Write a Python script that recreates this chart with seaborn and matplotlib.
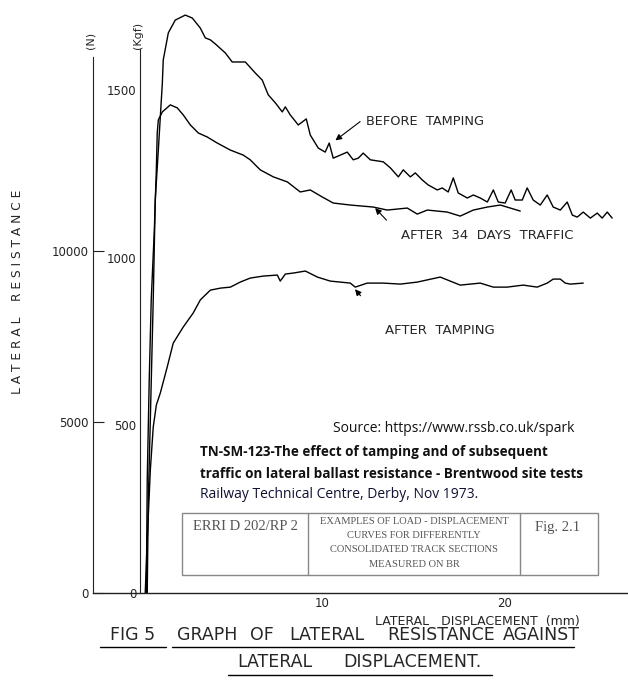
import numpy as np
import pandas as pd
import seaborn as sns
import matplotlib.pyplot as plt
from matplotlib.lines import Line2D
from matplotlib.patches import Rectangle

# curves: lateral displacement (mm) vs lateral resistance (kgf)
before_x = [0.38, 0.44, 0.55, 0.71, 0.82, 0.99, 1.21, 1.26, 1.54, 1.92, 2.47, 2.86, 3.30, 3.57,
            3.85, 4.12, 4.67, 5.05, 5.77, 6.32, 6.70, 7.03, 7.42, 7.80, 7.97, 8.24, 8.68, 9.12,
            9.34, 9.78, 10.16, 10.38, 10.60, 10.99, 11.37, 11.70, 11.98, 12.25, 12.64, 13.35,
            13.74, 14.18, 14.45, 14.84, 15.11, 15.49, 15.82, 16.32, 16.59, 16.92, 17.20, 17.47,
            17.97, 18.30, 18.68, 19.07, 19.40, 19.67, 20.05, 20.38, 20.60, 20.99, 21.26, 21.59,
            21.98, 22.36, 22.69, 23.08, 23.46, 23.74, 24.01, 24.34, 24.73, 25.11, 25.38, 25.66, 25.93]
before_y = [0, 278, 517, 875, 1173, 1322, 1522, 1591, 1672, 1710, 1725, 1716, 1686, 1657,
            1651, 1639, 1612, 1585, 1585, 1552, 1531, 1487, 1463, 1436, 1451, 1427, 1397, 1415,
            1367, 1328, 1316, 1343, 1298, 1307, 1316, 1293, 1298, 1313, 1293, 1287,
            1269, 1242, 1263, 1242, 1254, 1233, 1218, 1203, 1209, 1197, 1239, 1194,
            1179, 1188, 1179, 1167, 1203, 1167, 1164, 1203, 1173, 1173, 1209, 1173,
            1158, 1188, 1152, 1143, 1167, 1128, 1122, 1137, 1119, 1134, 1119, 1137, 1119]

traffic_x = [0.33, 0.38, 0.49, 0.60, 0.77, 0.88, 0.93, 0.99, 1.21, 1.65, 2.03, 2.36, 2.75, 3.19,
             3.68, 4.23, 4.95, 5.66, 6.04, 6.59, 7.31, 8.08, 8.79, 9.34, 10.0, 10.60, 11.54,
             12.80, 13.57, 14.67, 15.22, 15.77, 16.87, 17.58, 18.30, 19.07, 19.78, 20.33, 20.88]
traffic_y = [0, 337, 636, 875, 1084, 1263, 1373, 1412, 1436, 1457, 1448, 1427, 1397, 1373,
             1361, 1343, 1322, 1307, 1293, 1263, 1242, 1227, 1197, 1203, 1182, 1164, 1158,
             1152, 1143, 1149, 1131, 1143, 1137, 1125, 1143, 1152, 1158, 1149, 1140]

after_x = [0.27, 0.38, 0.55, 0.71, 0.88, 1.10, 1.48, 1.81, 2.36, 2.91, 3.30, 3.85, 4.40, 4.95,
           5.49, 6.04, 6.76, 7.53, 7.69, 7.97, 8.41, 9.07, 9.73, 10.44, 11.54, 11.81, 12.47,
           13.35, 14.29, 15.22, 16.48, 17.03, 17.58, 18.68, 19.40, 20.16, 21.04, 21.81, 22.36,
           22.69, 23.08, 23.35, 23.63, 24.34]
after_y = [0, 158, 367, 495, 561, 597, 675, 746, 794, 836, 875, 904, 910, 913,
           928, 940, 946, 949, 931, 952, 955, 961, 943, 931, 925, 913, 925,
           925, 922, 928, 943, 931, 919, 925, 913, 913, 919, 913, 925,
           937, 937, 925, 922, 925]

kgf_ticks = [0, 500, 1000, 1500]
n_ticks = [0, 5000, 10000]
x_ticks = [10, 20]

df = pd.concat([
    pd.DataFrame({'disp': before_x, 'res': before_y, 'curve': 'before'}),
    pd.DataFrame({'disp': traffic_x, 'res': traffic_y, 'curve': 'traffic'}),
    pd.DataFrame({'disp': after_x, 'res': after_y, 'curve': 'after'}),
])

sns.set_style("white")
plt.rcParams['font.family'] = ['DejaVu Sans']

W, H = 628, 681
fig = plt.figure(figsize=(W / 100, H / 100), dpi=100)
ax = fig.add_axes([93 / W, (H - 593) / H, (W - 93) / W, 593 / H])

sns.lineplot(data=df, x='disp', y='res', units='curve', estimator=None, sort=False,
             color='black', linewidth=1.0, ax=ax)

ax.set_xlim(-2.6, 26.8)
ax.set_ylim(0, 1770)
ax.set_xlabel('')
ax.set_ylabel('')
for s in ['top', 'right']:
    ax.spines[s].set_visible(False)
ax.spines['bottom'].set_color('#222222')
ax.spines['bottom'].set_linewidth(1.0)

# kgf axis sits at zero displacement
ax.spines['left'].set_position(('data', 0))
ax.spines['left'].set_bounds(0, 1625)
ax.spines['left'].set_color('#222222')
ax.set_yticks(kgf_ticks)
ax.set_yticklabels(['0', '500', '1000', '1500'])
ax.tick_params(axis='y', direction='in', length=9, width=0.8, labelsize=8.5, pad=3, colors='#222222')
ax.set_xticks(x_ticks)
ax.set_xticklabels(['10', '20'])
ax.tick_params(axis='x', direction='in', length=4, width=0.8, labelsize=8.5, pad=3, colors='#222222')

# newton axis on the far left
sec = ax.secondary_yaxis(0.0, functions=(lambda k: k * 9.81, lambda n: n / 9.81))
sec.set_yticks(n_ticks)
sec.set_yticklabels(['0', '5000', '10000'])
sec.spines['left'].set_bounds(0, 15700)
sec.spines['left'].set_color('#222222')
sec.tick_params(axis='y', direction='in', length=8, width=0.8, labelsize=8.5, pad=3, colors='#222222')

fig.text(90 / W, 1 - 40 / H, '(N)', rotation=90, ha='center', va='center', fontsize=8)
fig.text(138 / W, 1 - 35 / H, '(Kgf)', rotation=90, ha='center', va='center', fontsize=8)
fig.text(18 / W, 1 - 292 / H, 'L A T E R A L    R E S I S T A N C E', rotation=90,
         ha='center', va='center', fontsize=8.8)
fig.text(375 / W, 1 - 621 / H, 'LATERAL   DISPLACEMENT  (mm)', ha='left', va='center', fontsize=9)

# curve labels with arrows
arrow = dict(arrowstyle='-|>', color='black', lw=0.8, mutation_scale=9)
ax.annotate('', xy=(10.6, 1346), xytext=(12.2, 1412), arrowprops=arrow)
ax.text(12.4, 1406, 'BEFORE  TAMPING', fontsize=9.3, va='center', ha='left')
ax.annotate('', xy=(12.8, 1155), xytext=(13.63, 1107), arrowprops=arrow)
ax.text(14.3, 1066, 'AFTER  34  DAYS  TRAFFIC', fontsize=9.5, va='center', ha='left')
ax.annotate('', xy=(11.7, 913), xytext=(12.2, 881), arrowprops=arrow)
ax.text(13.45, 785, 'AFTER  TAMPING', fontsize=9.5, va='center', ha='left')

# figure caption, hand lettered so each word is placed on its own
caption1 = ['FIG 5', 'GRAPH', 'OF', 'LATERAL', 'RESISTANCE', 'AGAINST']
caption1_x = [133, 207, 262, 327, 441, 541]
caption2 = ['LATERAL', 'DISPLACEMENT.']
caption2_x = [275, 412]
for word, xc in zip(caption1, caption1_x):
    fig.text(xc / W, 1 - 635 / H, word, ha='center', va='center', fontsize=12.5)
for word, xc in zip(caption2, caption2_x):
    fig.text(xc / W, 1 - 662 / H, word, ha='center', va='center', fontsize=12.5)
for x0, x1, yy in [(100, 166, 647), (172, 574, 647), (228, 492, 675)]:
    fig.add_artist(Line2D([x0 / W, x1 / W], [1 - yy / H, 1 - yy / H], color='black', lw=1.0))

# source notes
fig.text(333 / W, 1 - 429 / H, 'Source: https://www.rssb.co.uk/spark', fontsize=10,
         family='Open Sans', ha='left', va='center', color='#111111')
fig.text(200 / W, 1 - 452 / H, 'TN-SM-123-The effect of tamping and of subsequent', fontsize=9.75,
         family='Open Sans', weight='bold', ha='left', va='center', color='#111111')
fig.text(200 / W, 1 - 474 / H, 'traffic on lateral ballast resistance - Brentwood site tests',
         fontsize=9.75, family='Open Sans', weight='bold', ha='left', va='center', color='#111111')
fig.text(200 / W, 1 - 495 / H, 'Railway Technical Centre, Derby, Nov 1973.', fontsize=10,
         family='Open Sans', ha='left', va='center', color='#111133')

# ERRI reference box
fig.add_artist(Rectangle((182 / W, 1 - 575 / H), (598 - 182) / W, (575 - 513) / H,
                         transform=fig.transFigure, facecolor='white', edgecolor='#888888', lw=1.0))
for xx in [308, 520]:
    fig.add_artist(Line2D([xx / W, xx / W], [1 - 513 / H, 1 - 575 / H], color='#888888', lw=1.0))
fig.text(245 / W, 1 - 527 / H, 'ERRI D 202/RP 2', family='Liberation Serif', fontsize=10.5,
         ha='center', va='center', color='#555555')
fig.text(558 / W, 1 - 527 / H, 'Fig. 2.1', family='Liberation Serif', fontsize=10.5,
         ha='center', va='center', color='#555555')
box_lines = ['EXAMPLES OF LOAD - DISPLACEMENT', 'CURVES FOR DIFFERENTLY',
             'CONSOLIDATED TRACK SECTIONS', 'MEASURED ON BR']
for i, line in enumerate(box_lines):
    fig.text(414 / W, 1 - (521 + 14.5 * i) / H, line, family='Liberation Serif', fontsize=7.5,
             ha='center', va='center', color='#555555')

fig.savefig('out.png', dpi=100)
